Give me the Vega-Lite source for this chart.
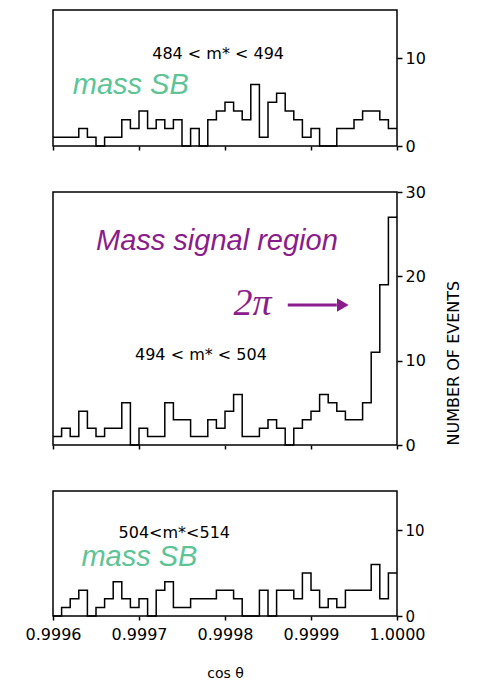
{
  "$schema": "https://vega.github.io/schema/vega-lite/v6.json",
  "padding": {"top": 9, "left": 24, "right": 5, "bottom": 5},
  "background": "white",
  "config": {
    "view": {"stroke": "black", "strokeWidth": 1.5},
    "font": "DejaVu Sans",
    "axis": {"grid": false, "domain": false, "tickColor": "black", "labelColor": "black", "titleColor": "black", "tickWidth": 1.5, "labelFontSize": 16, "titleFontWeight": "normal", "labelFlush": false, "labelOverlap": false},
    "text": {"color": "black"}
  },
  "datasets": {
    "p1": [
      {"x": 0.99960, "n": 1}, {"x": 0.99961, "n": 1}, {"x": 0.99962, "n": 1}, {"x": 0.99963, "n": 2}, {"x": 0.99964, "n": 1},
      {"x": 0.99965, "n": 0}, {"x": 0.99966, "n": 1}, {"x": 0.99967, "n": 1}, {"x": 0.99968, "n": 3}, {"x": 0.99969, "n": 2},
      {"x": 0.99970, "n": 4}, {"x": 0.99971, "n": 2}, {"x": 0.99972, "n": 3}, {"x": 0.99973, "n": 2}, {"x": 0.99974, "n": 3},
      {"x": 0.99975, "n": 0}, {"x": 0.99976, "n": 2}, {"x": 0.99977, "n": 0}, {"x": 0.99978, "n": 3}, {"x": 0.99979, "n": 4},
      {"x": 0.99980, "n": 5}, {"x": 0.99981, "n": 4}, {"x": 0.99982, "n": 3}, {"x": 0.99983, "n": 7}, {"x": 0.99984, "n": 1},
      {"x": 0.99985, "n": 5}, {"x": 0.99986, "n": 6}, {"x": 0.99987, "n": 4}, {"x": 0.99988, "n": 3}, {"x": 0.99989, "n": 1},
      {"x": 0.99990, "n": 2}, {"x": 0.99991, "n": 0}, {"x": 0.99992, "n": 0}, {"x": 0.99993, "n": 2}, {"x": 0.99994, "n": 2},
      {"x": 0.99995, "n": 3}, {"x": 0.99996, "n": 4}, {"x": 0.99997, "n": 4}, {"x": 0.99998, "n": 3}, {"x": 0.99999, "n": 2},
      {"x": 1.00000, "n": 2}
    ],
    "p2": [
      {"x": 0.99960, "n": 1}, {"x": 0.99961, "n": 2}, {"x": 0.99962, "n": 1}, {"x": 0.99963, "n": 4}, {"x": 0.99964, "n": 2},
      {"x": 0.99965, "n": 1}, {"x": 0.99966, "n": 2}, {"x": 0.99967, "n": 2}, {"x": 0.99968, "n": 5}, {"x": 0.99969, "n": 0},
      {"x": 0.99970, "n": 2}, {"x": 0.99971, "n": 1}, {"x": 0.99972, "n": 1}, {"x": 0.99973, "n": 5}, {"x": 0.99974, "n": 3},
      {"x": 0.99975, "n": 3}, {"x": 0.99976, "n": 1}, {"x": 0.99977, "n": 1}, {"x": 0.99978, "n": 3}, {"x": 0.99979, "n": 2},
      {"x": 0.99980, "n": 4}, {"x": 0.99981, "n": 6}, {"x": 0.99982, "n": 1}, {"x": 0.99983, "n": 1}, {"x": 0.99984, "n": 2},
      {"x": 0.99985, "n": 3}, {"x": 0.99986, "n": 2}, {"x": 0.99987, "n": 0}, {"x": 0.99988, "n": 2}, {"x": 0.99989, "n": 3},
      {"x": 0.99990, "n": 4}, {"x": 0.99991, "n": 6}, {"x": 0.99992, "n": 5}, {"x": 0.99993, "n": 4}, {"x": 0.99994, "n": 3},
      {"x": 0.99995, "n": 3}, {"x": 0.99996, "n": 5}, {"x": 0.99997, "n": 11}, {"x": 0.99998, "n": 19}, {"x": 0.99999, "n": 27},
      {"x": 1.00000, "n": 27}
    ],
    "p3": [
      {"x": 0.99960, "n": 0}, {"x": 0.99961, "n": 1}, {"x": 0.99962, "n": 2}, {"x": 0.99963, "n": 3}, {"x": 0.99964, "n": 0},
      {"x": 0.99965, "n": 1}, {"x": 0.99966, "n": 2}, {"x": 0.99967, "n": 4}, {"x": 0.99968, "n": 2}, {"x": 0.99969, "n": 1},
      {"x": 0.99970, "n": 2}, {"x": 0.99971, "n": 0}, {"x": 0.99972, "n": 3}, {"x": 0.99973, "n": 4}, {"x": 0.99974, "n": 1},
      {"x": 0.99975, "n": 1}, {"x": 0.99976, "n": 2}, {"x": 0.99977, "n": 2}, {"x": 0.99978, "n": 2}, {"x": 0.99979, "n": 3},
      {"x": 0.99980, "n": 3}, {"x": 0.99981, "n": 2}, {"x": 0.99982, "n": 0}, {"x": 0.99983, "n": 0}, {"x": 0.99984, "n": 3},
      {"x": 0.99985, "n": 0}, {"x": 0.99986, "n": 3}, {"x": 0.99987, "n": 3}, {"x": 0.99988, "n": 2}, {"x": 0.99989, "n": 5},
      {"x": 0.99990, "n": 3}, {"x": 0.99991, "n": 1}, {"x": 0.99992, "n": 2}, {"x": 0.99993, "n": 1}, {"x": 0.99994, "n": 3},
      {"x": 0.99995, "n": 3}, {"x": 0.99996, "n": 3}, {"x": 0.99997, "n": 6}, {"x": 0.99998, "n": 2}, {"x": 0.99999, "n": 5},
      {"x": 1.00000, "n": 5}
    ]
  },
  "bounds": "flush",
  "spacing": 46,
  "vconcat": [
    {
      "width": 344,
      "height": 136,
      "layer": [
        {
          "data": {"name": "p1"},
          "mark": {"type": "line", "interpolate": "step-after", "color": "black", "strokeWidth": 1.5},
          "encoding": {
            "x": {"field": "x", "type": "quantitative", "scale": {"domain": [0.9996, 1.0], "nice": false, "zero": false},
                  "axis": {"title": null, "labels": false, "values": [0.9996, 0.9997, 0.9998, 0.9999, 1.0], "tickSize": 4}},
            "y": {"field": "n", "type": "quantitative", "scale": {"domain": [0, 15.5], "nice": false},
                  "axis": {"orient": "right", "title": null, "values": [0, 10], "tickSize": 5, "labelPadding": 3}}
          }
        },
        {
          "data": {"values": [{"label": "484 < m*  < 494"}]},
          "mark": {"type": "text", "fontSize": 16, "align": "center", "baseline": "middle"},
          "encoding": {"x": {"datum": 0.999792, "type": "quantitative"}, "y": {"datum": 10.5, "type": "quantitative"}, "text": {"field": "label"}}
        },
        {
          "data": {"values": [{"label": "mass SB"}]},
          "mark": {"type": "text", "font": "Liberation Sans", "fontStyle": "italic", "fontSize": 29, "color": "#5cc495", "align": "left", "baseline": "middle"},
          "encoding": {"x": {"datum": 0.999623, "type": "quantitative"}, "y": {"datum": 7.0, "type": "quantitative"}, "text": {"field": "label"}}
        }
      ]
    },
    {
      "width": 344,
      "height": 253,
      "layer": [
        {
          "data": {"name": "p2"},
          "mark": {"type": "line", "interpolate": "step-after", "color": "black", "strokeWidth": 1.5},
          "encoding": {
            "x": {"field": "x", "type": "quantitative", "scale": {"domain": [0.9996, 1.0], "nice": false, "zero": false},
                  "axis": {"title": null, "labels": false, "values": [0.9996, 0.9997, 0.9998, 0.9999, 1.0], "tickSize": 4}},
            "y": {"field": "n", "type": "quantitative", "scale": {"domain": [0, 30], "nice": false},
                  "axis": {"orient": "right", "title": "NUMBER OF EVENTS", "titleAngle": 270, "titleAnchor": "start", "titleFontSize": 16, "titlePadding": 36, "values": [0, 10, 20, 30], "tickSize": 5, "labelPadding": 3}}
          }
        },
        {
          "data": {"values": [{"label": "494 < m* < 504"}]},
          "mark": {"type": "text", "fontSize": 16, "align": "center", "baseline": "middle"},
          "encoding": {"x": {"datum": 0.999772, "type": "quantitative"}, "y": {"datum": 10.7, "type": "quantitative"}, "text": {"field": "label"}}
        },
        {
          "data": {"values": [{"label": "Mass signal region"}]},
          "mark": {"type": "text", "font": "Liberation Sans", "fontStyle": "italic", "fontSize": 29, "color": "#8b1c8b", "align": "left", "baseline": "middle"},
          "encoding": {"x": {"datum": 0.99965, "type": "quantitative"}, "y": {"datum": 24.2, "type": "quantitative"}, "text": {"field": "label"}}
        },
        {
          "data": {"values": [{"label": "2π"}]},
          "mark": {"type": "text", "font": "Liberation Serif", "fontStyle": "italic", "fontSize": 38, "color": "#8b1c8b", "align": "left", "baseline": "middle"},
          "encoding": {"x": {"datum": 0.99981, "type": "quantitative"}, "y": {"datum": 16.7, "type": "quantitative"}, "text": {"field": "label"}}
        },
        {
          "data": {"values": [{"label": "arrow"}]},
          "mark": {"type": "rule", "color": "#8b1c8b", "strokeWidth": 3},
          "encoding": {"x": {"datum": 0.999873, "type": "quantitative"}, "x2": {"datum": 0.99993}, "y": {"datum": 16.6, "type": "quantitative"}}
        },
        {
          "data": {"values": [{"label": "arrowhead"}]},
          "mark": {"type": "point", "shape": "triangle-right", "filled": true, "color": "#8b1c8b", "size": 180, "opacity": 1},
          "encoding": {"x": {"datum": 0.999937, "type": "quantitative"}, "y": {"datum": 16.6, "type": "quantitative"}}
        }
      ]
    },
    {
      "width": 344,
      "height": 125,
      "layer": [
        {
          "data": {"name": "p3"},
          "mark": {"type": "line", "interpolate": "step-after", "color": "black", "strokeWidth": 1.5},
          "encoding": {
            "x": {"field": "x", "type": "quantitative", "scale": {"domain": [0.9996, 1.0], "nice": false, "zero": false},
                  "axis": {"title": "cos θ", "titleFontSize": 14, "titlePadding": 24, "format": ".4f", "values": [0.9996, 0.9997, 0.9998, 0.9999, 1.0], "tickSize": 4, "labelPadding": 6}},
            "y": {"field": "n", "type": "quantitative", "scale": {"domain": [0, 14.55], "nice": false},
                  "axis": {"orient": "right", "title": null, "values": [0, 10], "tickSize": 5, "labelPadding": 3, "labelFontSize": 15}}
          }
        },
        {
          "data": {"values": [{"label": "504<m*<514"}]},
          "mark": {"type": "text", "fontSize": 16, "align": "center", "baseline": "middle"},
          "encoding": {"x": {"datum": 0.999741, "type": "quantitative"}, "y": {"datum": 9.7, "type": "quantitative"}, "text": {"field": "label"}}
        },
        {
          "data": {"values": [{"label": "mass SB"}]},
          "mark": {"type": "text", "font": "Liberation Sans", "fontStyle": "italic", "fontSize": 29, "color": "#5cc495", "align": "left", "baseline": "middle"},
          "encoding": {"x": {"datum": 0.999633, "type": "quantitative"}, "y": {"datum": 6.9, "type": "quantitative"}, "text": {"field": "label"}}
        }
      ]
    }
  ]
}
